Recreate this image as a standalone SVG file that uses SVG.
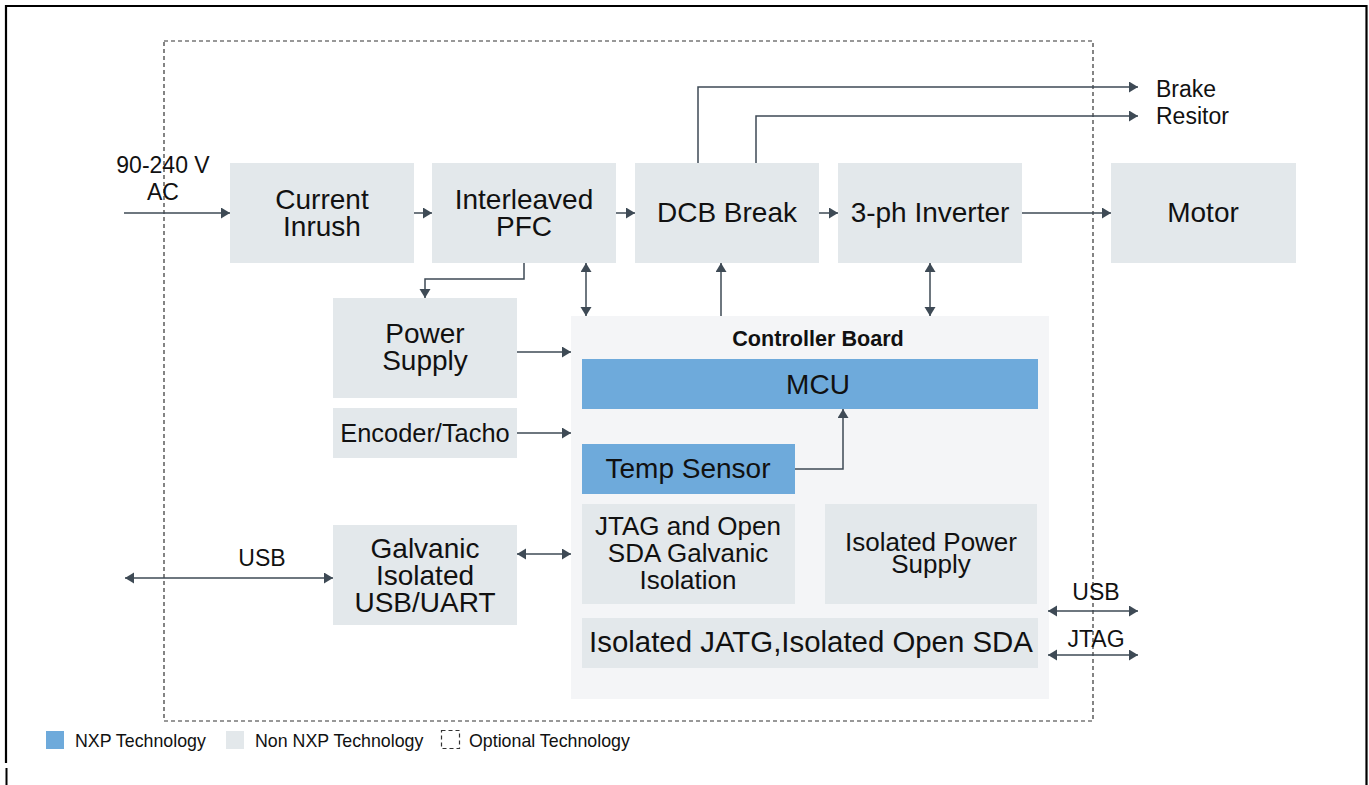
<svg xmlns="http://www.w3.org/2000/svg" width="1369" height="785" viewBox="0 0 1369 785">
<style>
text{font-family:"Liberation Sans",Arial,Helvetica,sans-serif;fill:#111;text-anchor:middle}
.n{fill:#e3e8eb}
.b{fill:#6eaadb}
.t{font-size:28px}
.s{font-size:26px}
.lbl{font-size:23px}
.leg{font-size:17.8px;text-anchor:start}
.c{fill:none;stroke:#3e4a55;stroke-width:1.5}
.a{marker-end:url(#ah)}
.d{marker-start:url(#ah);marker-end:url(#ah)}
</style>
<defs>
<marker id="ah" markerUnits="userSpaceOnUse" markerWidth="10" markerHeight="12" refX="9" refY="5.5" orient="auto-start-reverse">
<path d="M0,0 L9,5.5 L0,11 z" fill="#3e4a55"/>
</marker>
</defs>
<rect width="1369" height="785" fill="#fff"/>
<path d="M6,763 V6 H1366.5 V785" fill="none" stroke="#000" stroke-width="2.2"/>
<path d="M6.5,768 V785" fill="none" stroke="#000" stroke-width="2"/>
<rect x="164" y="41" width="929" height="680" fill="none" stroke="#333" stroke-width="1.2" stroke-dasharray="4,3"/>

<g id="controller-board">
<rect x="571" y="316" width="478" height="383" fill="#f4f5f7"/>
<text x="818" y="346" style="font-size:21.6px;font-weight:bold">Controller Board</text>
</g>

<g id="current-inrush"><rect class="n" x="230" y="163" width="184" height="100"/>
<text class="t" x="322" y="209">Current</text><text class="t" x="322" y="236">Inrush</text></g>
<g id="interleaved-pfc"><rect class="n" x="432" y="163" width="184" height="100"/>
<text class="t" x="524" y="209">Interleaved</text><text class="t" x="524" y="236">PFC</text></g>
<g id="dcb-break"><rect class="n" x="635" y="163" width="184" height="100"/>
<text class="t" x="727" y="222">DCB Break</text></g>
<g id="inverter"><rect class="n" x="838" y="163" width="184" height="100"/>
<text class="t" x="930" y="222">3-ph Inverter</text></g>
<g id="motor"><rect class="n" x="1111" y="163" width="185" height="100"/>
<text class="t" x="1203" y="222">Motor</text></g>
<g id="power-supply"><rect class="n" x="333" y="298" width="184" height="100"/>
<text class="t" x="425" y="343">Power</text><text class="t" x="425" y="370">Supply</text></g>
<g id="encoder"><rect class="n" x="333" y="408" width="184" height="50"/>
<text x="425" y="442" style="font-size:25.4px">Encoder/Tacho</text></g>
<g id="galvanic-usb"><rect class="n" x="333" y="525" width="184" height="100"/>
<text class="t" x="425" y="558">Galvanic</text><text class="t" x="425" y="585">Isolated</text><text class="t" x="425" y="612">USB/UART</text></g>
<g id="mcu"><rect class="b" x="582" y="359" width="456" height="50"/>
<text class="t" x="818" y="394">MCU</text></g>
<g id="temp-sensor"><rect class="b" x="582" y="444" width="213" height="50"/>
<text class="t" x="688" y="478">Temp Sensor</text></g>
<g id="jtag-isolation"><rect class="n" x="582" y="504" width="213" height="100"/>
<text class="s" x="688" y="535">JTAG and Open</text><text class="s" x="688" y="562">SDA Galvanic</text><text class="s" x="688" y="589">Isolation</text></g>
<g id="isolated-power"><rect class="n" x="825" y="504" width="212" height="100"/>
<text class="s" x="931" y="551">Isolated Power</text><text class="s" x="931" y="573">Supply</text></g>
<g id="isolated-jtag"><rect class="n" x="582" y="618" width="456" height="50"/>
<text x="811" y="652" style="font-size:29.4px">Isolated JATG,Isolated Open SDA</text></g>

<g id="connectors">
<path class="c a" d="M124,213 H230"/>
<path class="c a" d="M414,213 H432"/>
<path class="c a" d="M616,213 H635"/>
<path class="c a" d="M819,213 H838"/>
<path class="c a" d="M1022,213 H1111"/>
<path class="c a" d="M698,163 V87 H1138"/>
<path class="c a" d="M756,163 V116 H1138"/>
<path class="c a" d="M524,263 V279 H425 V298"/>
<path class="c d" d="M586,263 V316"/>
<path class="c a" d="M721,316 V263"/>
<path class="c d" d="M930,263 V316"/>
<path class="c a" d="M517,352 H571"/>
<path class="c a" d="M517,433 H571"/>
<path class="c a" d="M795,469 H843 V409"/>
<path class="c d" d="M517,554 H571"/>
<path class="c d" d="M125,578 H333"/>
<path class="c d" d="M1048,611 H1138"/>
<path class="c d" d="M1048,655 H1138"/>
</g>

<g id="labels">
<text class="lbl" x="163" y="173">90-240 V</text>
<text class="lbl" x="163" y="200">AC</text>
<text class="lbl" x="1156" y="97" style="text-anchor:start">Brake</text>
<text class="lbl" x="1156" y="124" style="text-anchor:start">Resitor</text>
<text class="lbl" x="262" y="566">USB</text>
<text class="lbl" x="1096" y="600">USB</text>
<text class="lbl" x="1096" y="647">JTAG</text>
</g>

<g id="legend">
<rect x="46" y="731" width="18" height="18" fill="#6eaadb"/>
<text class="leg" x="75" y="747">NXP Technology</text>
<rect x="226" y="731" width="18" height="18" fill="#e3e8eb"/>
<text class="leg" x="255" y="747">Non NXP Technology</text>
<rect x="441.5" y="730.5" width="18" height="18" fill="none" stroke="#333" stroke-width="1.2" stroke-dasharray="4,3"/>
<text class="leg" x="469" y="747">Optional Technology</text>
</g>
</svg>
